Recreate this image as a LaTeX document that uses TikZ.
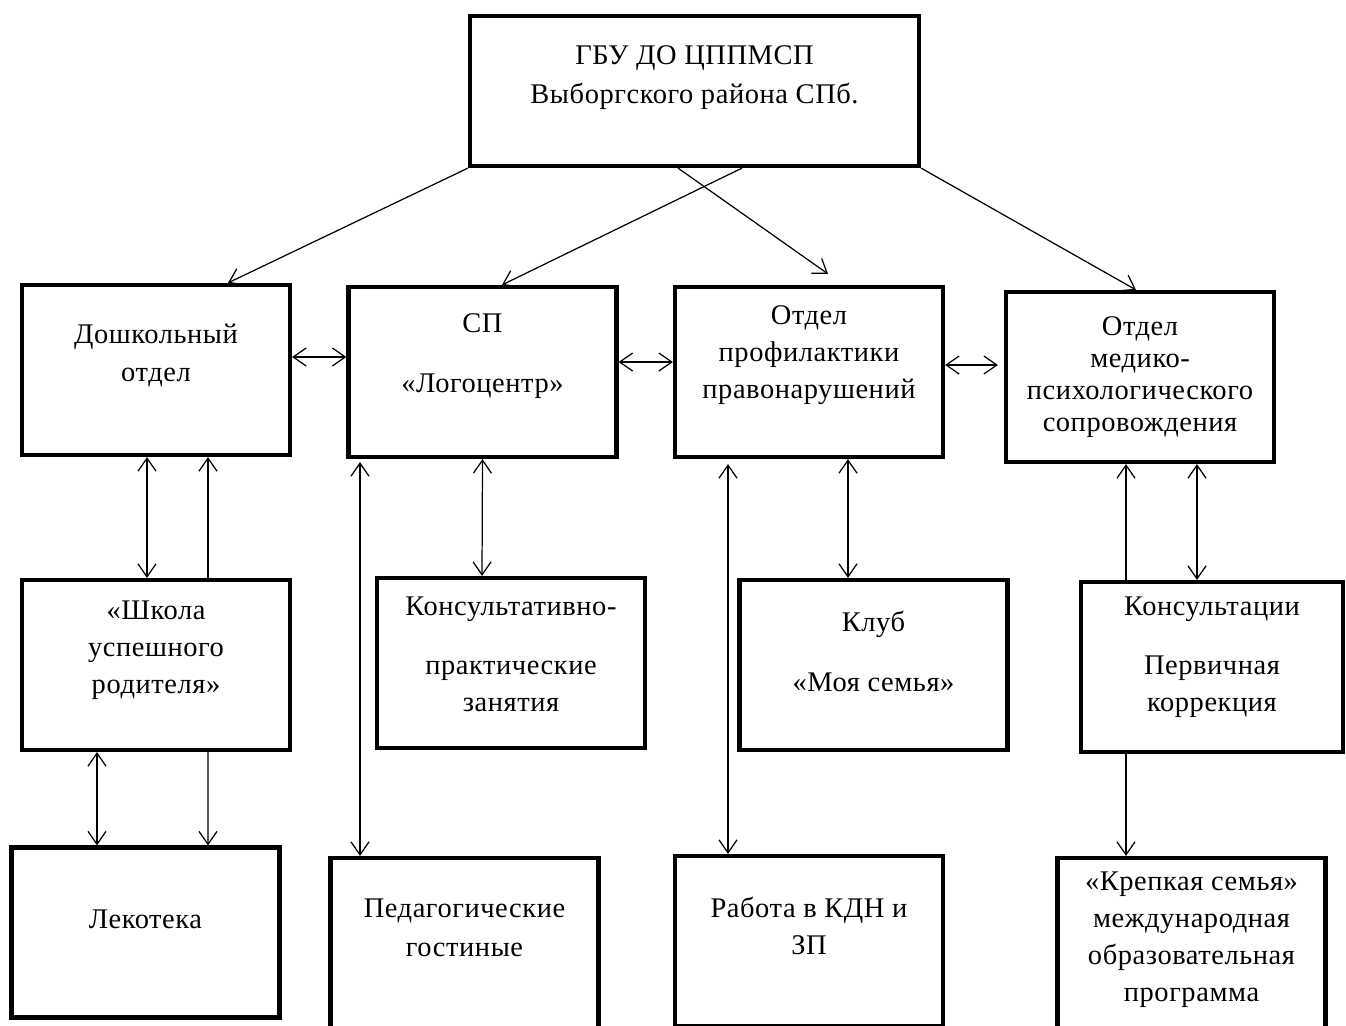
\documentclass[tikz,border=0pt]{standalone}
\usepackage{fontspec}
\setmainfont{Liberation Serif}[LetterSpace=2]
\usetikzlibrary{arrows.meta, calc}

\begin{document}
\begin{tikzpicture}[
    x=0.02cm, y=-0.02cm,
    font=\fontsize{16.2}{21}\selectfont,
    >={Straight Barb[length=2.6mm, width=3.6mm]},
    box/.style={draw, line width=2.4pt, minimum width=5.36cm, minimum height=3.4cm, inner sep=0pt},
    txt/.style={align=center, inner sep=0pt},
    line/.style={->, line width=0.7pt},
    dline/.style={<->, line width=0.7pt}
  ]
  \clip (0,0) rectangle (1346,1025);

  % Top: the centre itself
  \node[box, minimum width=8.98cm, minimum height=3.0cm] (top) at (694.5,91) {};
  \node[txt, font=\fontsize{16.2}{22}\selectfont] (top-t) at ($(top)+(0,-13.5)$) {ГБУ ДО ЦППМСП\\ Выборгского района СПб.};

  % First row: departments
  \node[box] (doshk) at (156,370) {};
  \node[txt, font=\fontsize{16.2}{22}\selectfont] (doshk-t) at ($(doshk)+(0,-14.5)$) {Дошкольный\\ отдел};
  \node[box] (logo) at (482.5,372) {};
  \node[txt] (logo-t) at ($(logo)+(0,-15.5)$) {СП\\[0.46cm] «Логоцентр»};
  \node[box] (prof) at (809,372) {};
  \node[txt] (prof-t) at ($(prof)+(0,-16.5)$) {Отдел\\ профилактики\\ правонарушений};
  \node[box] (med) at (1140,377) {};
  \node[txt, font=\fontsize{16.2}{18.2}\selectfont] (med-t) at (med) {Отдел\\ медико-\\ психологического\\ сопровождения};

  % Second row
  \node[box] (shkola) at (156,665) {};
  \node[txt] (shkola-t) at ($(shkola)+(0,-15)$) {«Школа\\ успешного\\ родителя»};
  \node[box] (konsprak) at (511,663) {};
  \node[txt] (konsprak-t) at ($(konsprak)+(0,-8.5)$) {Консультативно-\\[0.44cm] практические\\ занятия};
  \node[box] (klub) at (873.5,665) {};
  \node[txt] (klub-t) at ($(klub)+(0,-14)$) {Клуб\\[0.46cm] «Моя семья»};
  \node[box, minimum width=5.24cm] (konsult) at (1212,667) {};
  \node[txt] (konsult-t) at ($(konsult)+(0,-9.5)$) {Консультации\\[0.44cm] Первичная\\ коррекция};

  % Third row
  \node[box] (lekoteka) at (145.5,932.5) {};
  \node[txt] (lekoteka-t) at ($(lekoteka)+(0,-13.5)$) {Лекотека};
  \node[box] (ped) at (464.5,943) {};
  \node[txt, font=\fontsize{16.2}{22}\selectfont] (ped-t) at ($(ped)+(0,-15)$) {Педагогические\\ гостиные};
  \node[box] (rabota) at (809,941) {};
  \node[txt] (rabota-t) at ($(rabota)+(0,-15)$) {Работа в КДН и\\ ЗП};
  \node[box] (krep) at (1191.5,943) {};
  \node[txt] (krep-t) at ($(krep)+(0,-3.5)$) {«Крепкая семья»\\ международная\\ образовательная\\ программа};

  % From the centre to the departments
  \draw[line] (top.south west) -- ($(doshk.north)+(72,0)$);
  \draw[line] ($(top.south)+(47.5,0)$) -- ($(logo.north)+(19.5,0)$);
  \draw[line] ($(top.south)+(-16.5,0)$) -- ($(prof.north)+(19,-11)$);
  \draw[line] (top.south east) -- ($(med.north)+(-4,0)$);

  % Between the departments
  \draw[dline] ($(doshk.east)+(0,-13)$) -- ($(logo.west)+(0,-15)$);
  \draw[dline] ($(logo.east)+(0,-10)$) -- ($(prof.west)+(0,-10)$);
  \draw[dline] ($(prof.east)+(0,-7)$) -- ($(med.west)+(-6,-12)$);

  % Departments and their work
  \draw[dline] ($(doshk.south)+(-9,0)$) -- ($(shkola.north)+(-9,0)$);
  \draw[line] ($(shkola.north)+(52,0)$) -- ($(doshk.south)+(52,0)$);
  \draw[dline] ($(logo.south)+(-122.5,3)$) -- ($(ped.north)+(-104.5,0)$);
  \draw[dline] (logo.south) -- ($(konsprak.north)+(-29,0)$);
  \draw[dline] ($(prof.south)+(-81,5)$) -- ($(rabota.north)+(-81,0)$);
  \draw[dline] ($(prof.south)+(39,0)$) -- ($(klub.north)+(-25.5,0)$);
  \draw[line] ($(konsult.north)+(-86,0)$) -- ($(med.south)+(-14,0)$);
  \draw[dline] ($(med.south)+(57,0)$) -- ($(konsult.north)+(-15,0)$);
  \draw[dline] ($(shkola.south)+(-59,0)$) -- ($(lekoteka.north)+(-48.5,0)$);
  \draw[line] ($(shkola.south)+(52,0)$) -- ($(lekoteka.north)+(62.5,0)$);
  \draw[line] ($(konsult.south)+(-86,0)$) -- ($(krep.north)+(-65.5,0)$);
\end{tikzpicture}
\end{document}
